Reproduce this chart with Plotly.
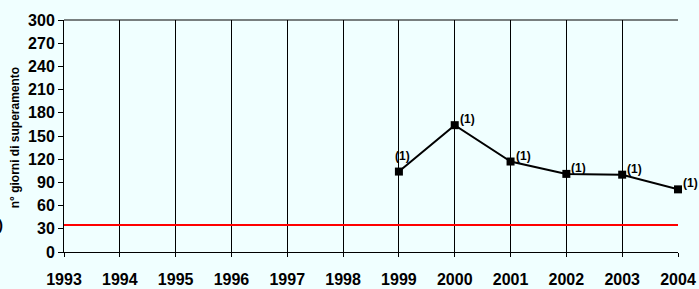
import plotly.graph_objects as go

years = [1999, 2000, 2001, 2002, 2003, 2004]
days = [104, 164, 117, 101, 100, 81]
point_labels = ["(1)", "(1)", "(1)", "(1)", "(1)", "(1)"]
limit_years = [1993, 2004]
limit_values = [35, 35]
x_ticks = list(range(1993, 2005))
y_ticks = list(range(0, 301, 30))
y_title = "n° giorni di superamento"

BG = "#F0FFFF"
W, H = 699, 289
ML, MR, MT, MB = 64, 21, 20, 37
pw = W - ML - MR
FAM = "Liberation Sans, Arial, sans-serif"

fig = go.Figure()
fig.add_trace(go.Scatter(x=limit_years, y=limit_values, mode="lines",
                         line=dict(color="#FF0000", width=2), hoverinfo="skip", showlegend=False))
fig.add_trace(go.Scatter(x=years, y=days, mode="lines+markers", cliponaxis=False,
                         line=dict(color="black", width=2),
                         marker=dict(symbol="square", size=8, color="black"),
                         showlegend=False))

for i, (xv, yv, t) in enumerate(zip(years, days, point_labels)):
    if i == 0:
        fig.add_annotation(x=xv, y=yv, text=t, showarrow=False,
                           xanchor="center", yanchor="middle", xshift=4, yshift=16,
                           font=dict(family=FAM, size=12, color="black", weight="bold"))
    else:
        fig.add_annotation(x=xv, y=yv, text=t, showarrow=False,
                           xanchor="left", yanchor="middle", xshift=3, yshift=6,
                           font=dict(family=FAM, size=12, color="black", weight="bold"))

fig.add_annotation(xref="paper", yref="paper", x=(15 - ML) / pw, y=0.49,
                   text=y_title, textangle=-90, showarrow=False,
                   xanchor="center", yanchor="middle",
                   font=dict(family=FAM, size=12, color="black", weight="bold"))
fig.add_annotation(xref="paper", yref="paper", x=(5 - ML) / pw, y=(252 - 224) / (H - MT - MB),
                   text=")", showarrow=False, xanchor="right", yanchor="middle",
                   font=dict(family=FAM, size=15, color="black", weight="bold"))

fig.update_xaxes(range=[1993, 2004], tickvals=x_ticks,
                 ticktext=[str(v) for v in x_ticks],
                 showgrid=True, gridcolor="black", gridwidth=1,
                 showline=True, linecolor="black", linewidth=1,
                 ticks="outside", ticklen=4, tickcolor="black",
                 ticklabelstandoff=9, automargin=False,
                 tickfont=dict(family=FAM, size=16, color="black", weight="bold"),
                 zeroline=False)
fig.update_yaxes(range=[0, 300], tickvals=y_ticks,
                 ticktext=[str(v) for v in y_ticks],
                 showgrid=False, showline=True, linecolor="black", linewidth=1,
                 ticks="outside", ticklen=5, tickcolor="black", automargin=False,
                 tickfont=dict(family=FAM, size=16, color="black", weight="bold"),
                 zeroline=False)
fig.add_shape(type="line", xref="paper", yref="paper", x0=0, x1=1, y0=1, y1=1,
              line=dict(color="black", width=1))

fig.update_layout(width=W, height=H, margin=dict(l=ML, r=MR, t=MT, b=MB, autoexpand=False),
                  paper_bgcolor=BG, plot_bgcolor=BG, showlegend=False)
fig.write_html("out.html", config={"displayModeBar": False},
               post_script="document.body.style.margin='0';document.body.style.background='%s';document.body.style.overflow='hidden';" % BG)
